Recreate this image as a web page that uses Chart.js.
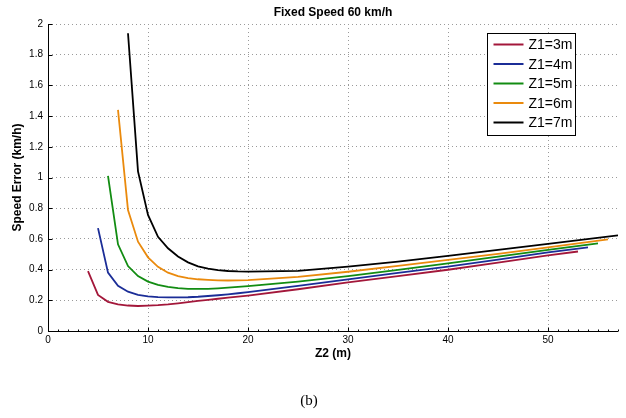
<!DOCTYPE html>
<html>
<head>
<meta charset="utf-8">
<script src="https://cdn.jsdelivr.net/npm/chart.js@4/dist/chart.umd.min.js"></script>
<style>
    html, body { margin: 0; padding: 0; background: #fff; }
    #wrap { width: 626px; height: 418px; }
</style>
</head>
<body>
<div id="wrap"><canvas id="myChart" width="626" height="418"></canvas></div>
<script>
// Z2 positions (m) and speed error (km/h) for each Z1 value
const seriesLabels = ['Z1=3m', 'Z1=4m', 'Z1=5m', 'Z1=6m', 'Z1=7m'];
const seriesColors = ['#a3173a', '#1b2d97', '#128c12', '#ea8a0d', '#000000'];

const z2_3m = [4, 5, 6, 7, 8, 9, 10, 11, 12, 13, 14, 15, 16, 17, 18, 19, 20, 25, 30, 35, 40, 45, 50, 53];
const err_3m = [0.39, 0.235, 0.19, 0.174, 0.166, 0.163, 0.165, 0.168, 0.173, 0.18, 0.188, 0.196, 0.203, 0.21, 0.217, 0.224, 0.231, 0.272, 0.317, 0.358, 0.399, 0.445, 0.493, 0.518];

const z2_4m = [5, 6, 7, 8, 9, 10, 11, 12, 13, 14, 15, 16, 17, 18, 19, 20, 25, 30, 35, 40, 45, 50, 54];
const err_4m = [0.67, 0.38, 0.295, 0.256, 0.236, 0.226, 0.221, 0.219, 0.219, 0.22, 0.223, 0.228, 0.233, 0.239, 0.246, 0.253, 0.294, 0.337, 0.378, 0.42, 0.465, 0.512, 0.545];

const z2_5m = [6, 7, 8, 9, 10, 11, 12, 13, 14, 15, 16, 17, 18, 19, 20, 25, 30, 35, 40, 45, 50, 55];
const err_5m = [1.01, 0.565, 0.423, 0.358, 0.322, 0.3, 0.287, 0.279, 0.275, 0.274, 0.275, 0.278, 0.282, 0.287, 0.292, 0.322, 0.358, 0.398, 0.441, 0.484, 0.528, 0.571];

const z2_6m = [7, 8, 9, 10, 11, 12, 13, 14, 15, 16, 17, 18, 19, 20, 25, 30, 35, 40, 45, 50, 56];
const err_6m = [1.44, 0.788, 0.582, 0.48, 0.418, 0.38, 0.357, 0.344, 0.337, 0.333, 0.33, 0.329, 0.33, 0.332, 0.352, 0.386, 0.424, 0.463, 0.503, 0.545, 0.597];

const z2_7m = [8, 9, 10, 11, 12, 13, 14, 15, 16, 17, 18, 19, 20, 25, 30, 35, 40, 45, 50, 57, 58];
const err_7m = [1.94, 1.04, 0.756, 0.614, 0.539, 0.485, 0.447, 0.421, 0.406, 0.397, 0.391, 0.388, 0.387, 0.392, 0.419, 0.452, 0.489, 0.528, 0.567, 0.623, 0.63];

const xTicks = [0, 10, 20, 30, 40, 50];
const yTicks = [0, 0.2, 0.4, 0.6, 0.8, 1, 1.2, 1.4, 1.6, 1.8, 2];

const allX = [z2_3m, z2_4m, z2_5m, z2_6m, z2_7m];
const allY = [err_3m, err_4m, err_5m, err_6m, err_7m];

const FONT = "'Liberation Sans', Arial, Helvetica, sans-serif";

/**
 * pair up x and y arrays for a line dataset
 */
function toPoints(xs, ys)
{
    return xs.map((x, i) => ({x: x, y: ys[i]}));
}

// solid axis lines and MATLAB style inward tick marks, placed through the scales
const inwardTicks = {
    id: 'inwardTicks',
    afterDatasetsDraw(chart) {
        const ctx = chart.ctx;
        const xs = chart.scales.x;
        const ys = chart.scales.y;
        const area = chart.chartArea;
        const left = Math.round(area.left) + 0.5;
        const bottom = Math.round(area.bottom) + 0.5;
        ctx.save();
        ctx.setLineDash([]);
        ctx.strokeStyle = '#000';
        ctx.lineWidth = 1;
        ctx.beginPath();
        ctx.moveTo(left, Math.round(area.top));
        ctx.lineTo(left, bottom);
        ctx.lineTo(Math.round(area.right), bottom);
        for (let v = 0; v <= xs.max; v++) {
            const px = Math.round(xs.getPixelForValue(v)) + 0.5;
            const len = (v % 10 === 0) ? 4 : 2;
            ctx.moveTo(px, bottom);
            ctx.lineTo(px, bottom - len);
        }
        yTicks.forEach(v => {
            const py = Math.round(ys.getPixelForValue(v)) + 0.5;
            ctx.moveTo(left, py);
            ctx.lineTo(left + 4, py);
        });
        ctx.stroke();
        ctx.restore();
    }
};

// boxed legend in the upper right corner of the plot
const boxLegend = {
    id: 'boxLegend',
    afterDraw(chart) {
        const ctx = chart.ctx;
        const area = chart.chartArea;
        const bx = area.right - 130.5;
        const by = area.top + 9.5;
        const bw = 88;
        const bh = 102;
        ctx.save();
        ctx.fillStyle = '#fff';
        ctx.fillRect(bx, by, bw, bh);
        ctx.strokeStyle = '#000';
        ctx.lineWidth = 1;
        ctx.strokeRect(bx, by, bw, bh);
        ctx.font = '14px ' + FONT;
        ctx.textBaseline = 'middle';
        ctx.textAlign = 'left';
        chart.data.datasets.forEach((ds, i) => {
            const y = by + 11 + i * 19.5;
            ctx.strokeStyle = ds.borderColor;
            ctx.lineWidth = 2;
            ctx.beginPath();
            ctx.moveTo(bx + 6, y);
            ctx.lineTo(bx + 36, y);
            ctx.stroke();
            ctx.fillStyle = '#000';
            ctx.fillText(ds.label, bx + 41, y + 1);
        });
        ctx.restore();
    }
};

const datasets = seriesLabels.map((label, i) => ({
    label: label,
    data: toPoints(allX[i], allY[i]),
    borderColor: seriesColors[i],
    backgroundColor: seriesColors[i],
    borderWidth: 1.8,
    pointRadius: 0,
    tension: 0,
    fill: false
}));

const gridDots = {
    display: true,
    color: '#9a9a9a',
    lineWidth: 1,
    drawTicks: false
};

const config = {
    type: 'line',
    data: {datasets: datasets},
    options: {
        responsive: false,
        animation: false,
        layout: {
            padding: {left: 0, right: 8, top: 0, bottom: 0}
        },
        plugins: {
            legend: {display: false},
            tooltip: {enabled: false},
            title: {
                display: true,
                text: 'Fixed Speed 60 km/h',
                fullSize: false,
                color: '#000',
                font: {family: FONT, size: 12, weight: 'bold'},
                padding: {top: 5, bottom: 4.6}
            },
            subtitle: {
                display: true,
                position: 'bottom',
                text: '(b)',
                color: '#000',
                font: {family: "'Liberation Serif', 'Times New Roman', serif", size: 15, weight: 'normal'},
                padding: {top: 27, bottom: 8}
            }
        },
        scales: {
            x: {
                type: 'linear',
                min: 0,
                max: 57,
                afterFit: (scale) => { scale.height = 34; },
                afterBuildTicks: (scale) => { scale.ticks = xTicks.map(v => ({value: v})); },
                ticks: {
                    color: '#000',
                    padding: 3,
                    maxRotation: 0,
                    font: {family: FONT, size: 10},
                    callback: (v) => String(v)
                },
                grid: gridDots,
                border: {display: false, dash: [1, 3]},
                title: {
                    display: true,
                    text: 'Z2 (m)',
                    color: '#000',
                    font: {family: FONT, size: 12, weight: 'bold'},
                    padding: {top: 0, bottom: 4}
                }
            },
            y: {
                type: 'linear',
                min: 0,
                max: 2,
                afterFit: (scale) => { scale.width = 48; },
                afterBuildTicks: (scale) => { scale.ticks = yTicks.map(v => ({value: v})); },
                ticks: {
                    color: '#000',
                    padding: 5,
                    font: {family: FONT, size: 10},
                    callback: (v) => String(+v.toFixed(1))
                },
                grid: gridDots,
                border: {display: false, dash: [1, 3]},
                title: {
                    display: true,
                    text: 'Speed Error (km/h)',
                    color: '#000',
                    font: {family: FONT, size: 12, weight: 'bold'},
                    padding: {top: 10, bottom: 0}
                }
            }
        }
    },
    plugins: [inwardTicks, boxLegend]
};

const ctx = document.getElementById('myChart').getContext('2d');

if (ctx) {
    new Chart(ctx, config);
}
</script>
</body>
</html>
